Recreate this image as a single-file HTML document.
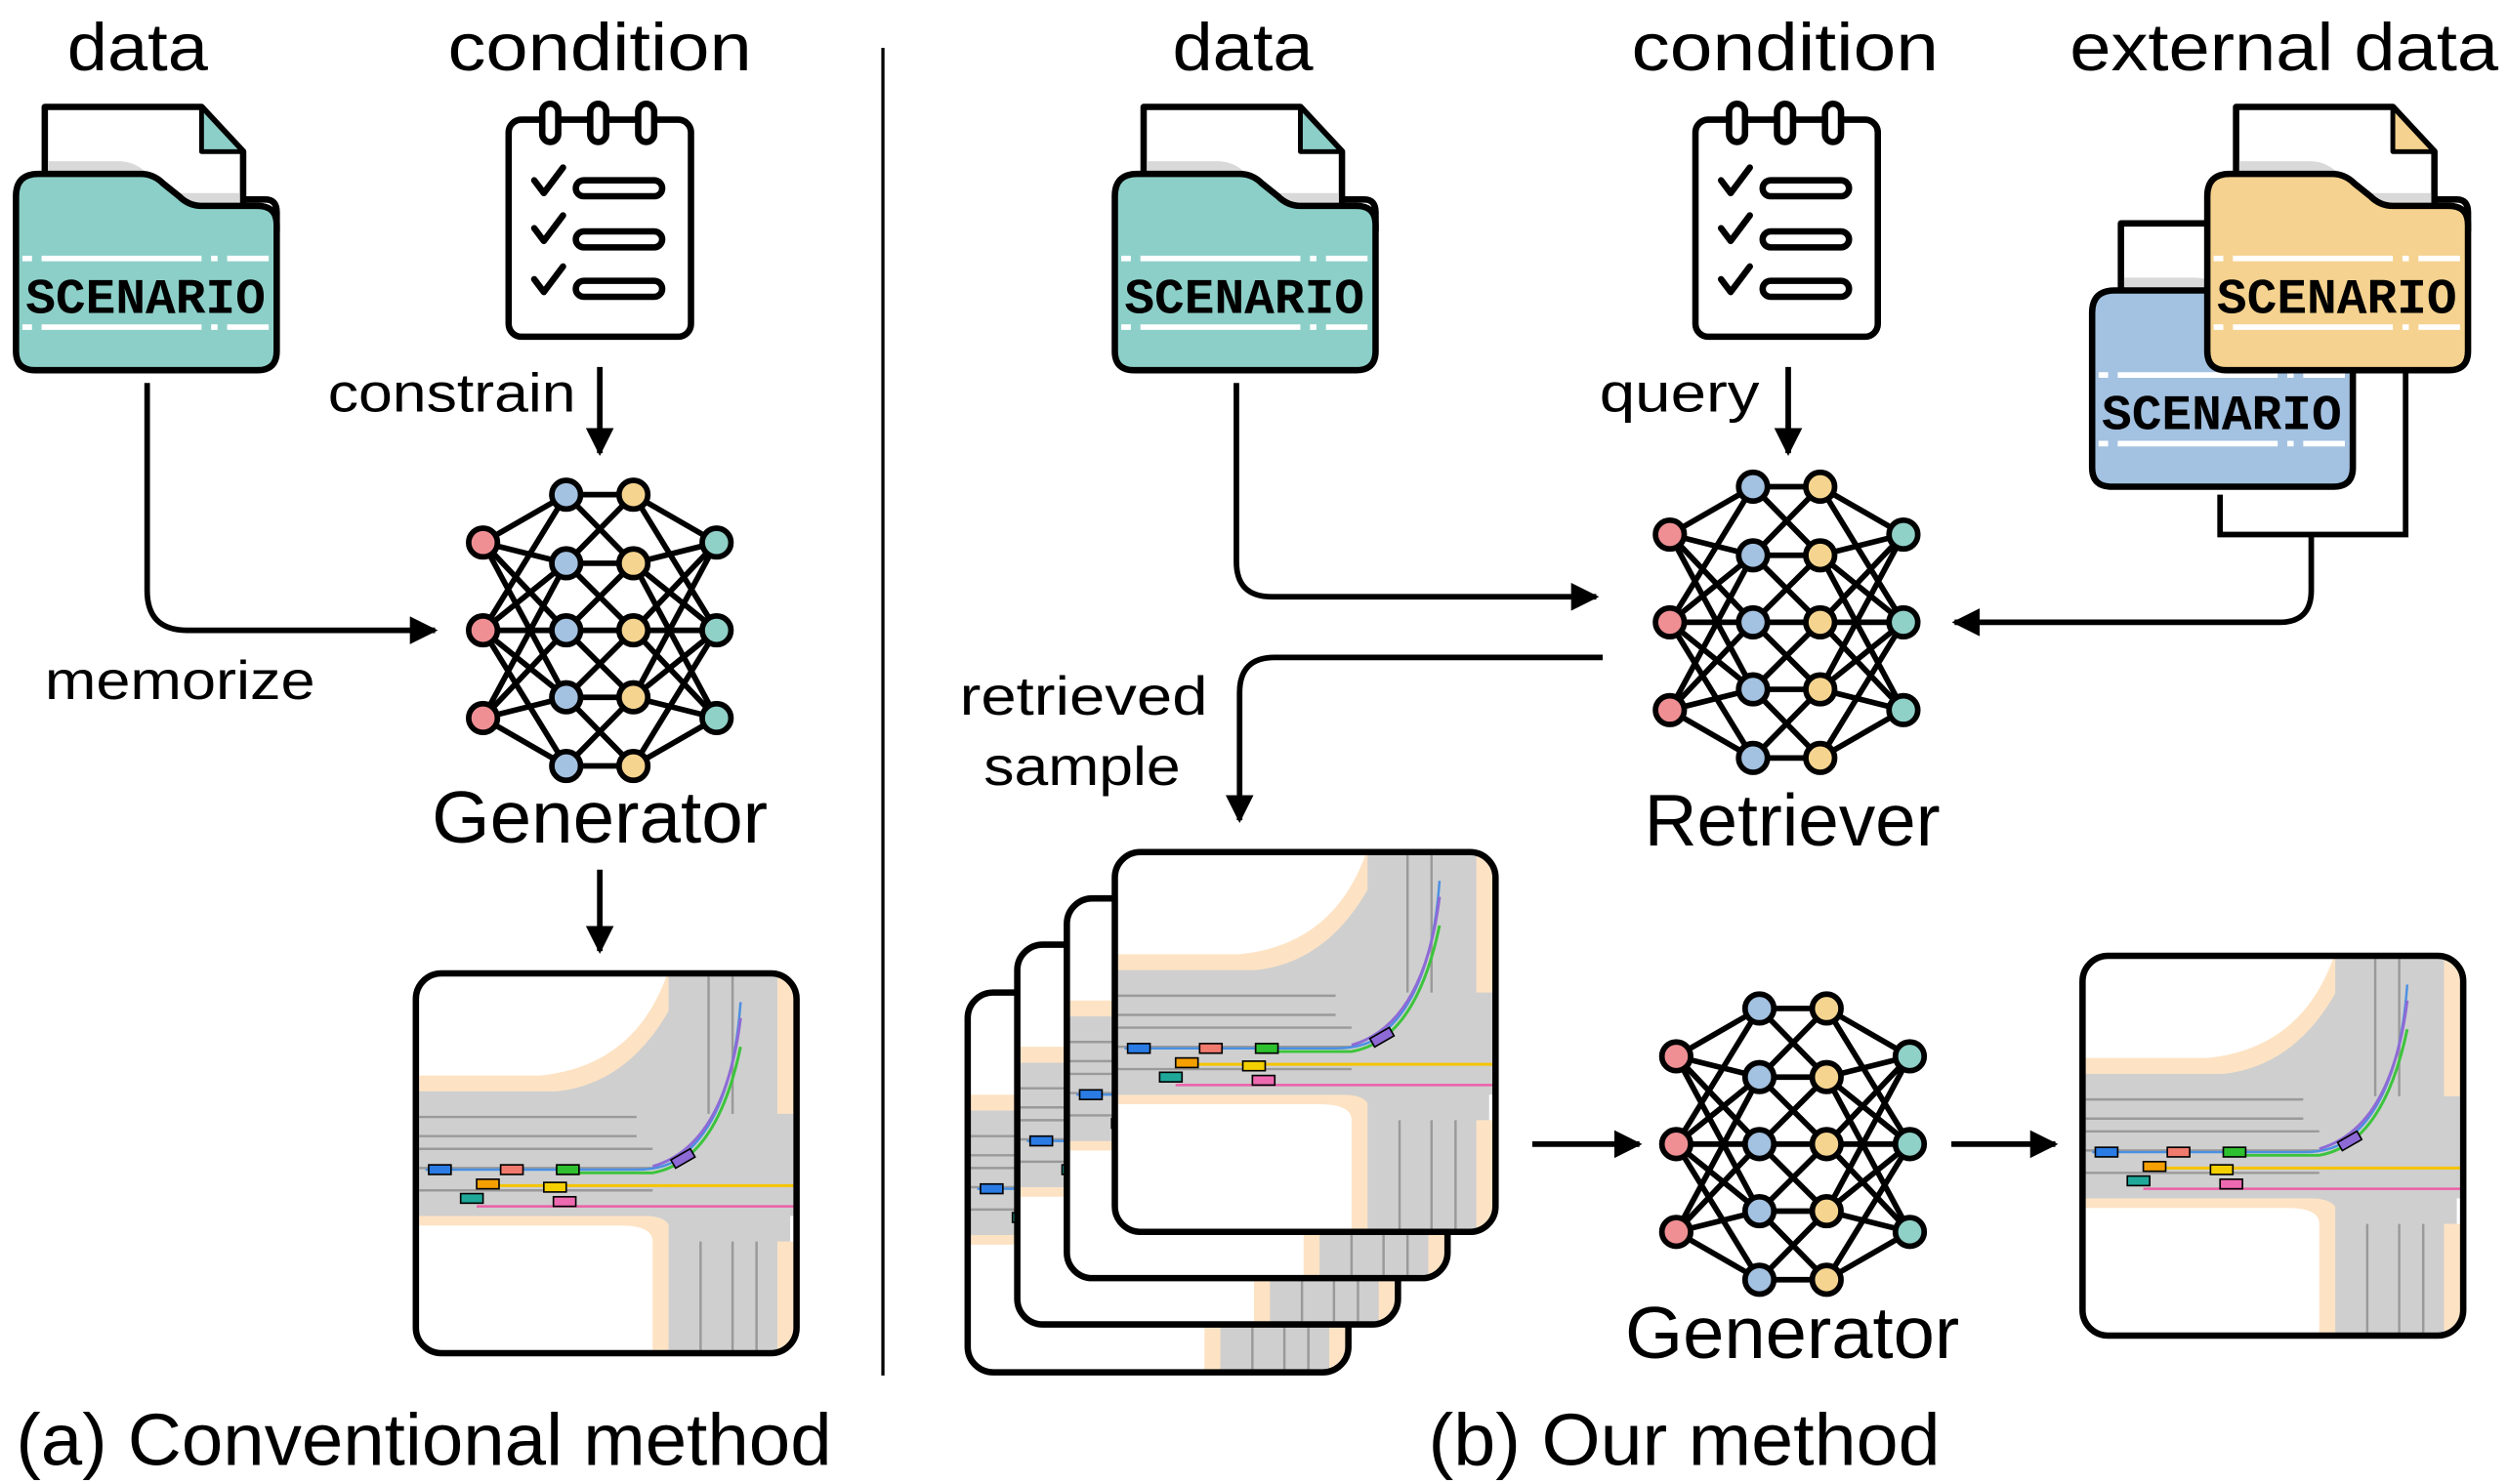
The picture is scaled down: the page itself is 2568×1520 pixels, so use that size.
<!DOCTYPE html>
<html><head><meta charset="utf-8"><style>
html,body{margin:0;padding:0;background:#fff;}
svg{display:block;}
text{font-family:"Liberation Sans","DejaVu Sans",sans-serif;fill:#000;}
</style></head><body>
<svg width="2568" height="1520" viewBox="0 0 1568 930" preserveAspectRatio="none" xmlns="http://www.w3.org/2000/svg">
<defs>
<marker id="ah" viewBox="0 0 10 10" refX="9" refY="5" markerWidth="5" markerHeight="5" orient="auto" markerUnits="strokeWidth"><path d="M0,0 L10,5 L0,10 Z" fill="#000"/></marker>
<symbol id="folder" viewBox="0 0 167 170" width="167" height="170" overflow="visible">
  <path d="M20,2 H118 L144,30 V70 H20 Z" fill="#fff" stroke="#000" stroke-width="4" stroke-linejoin="round"/>
  <path d="M118,2 V30 H144 Z" fill="currentColor" stroke="#000" stroke-width="3" stroke-linejoin="round"/>
  <path d="M22,36 H66 Q78,36 86,46 L96,56 H142 V62 H22 Z" fill="#d9d9d9"/>
  <path d="M144,60 H158 Q165,60 165,68 V80" fill="none" stroke="#000" stroke-width="4"/>
  <path d="M2,58 Q2,44 16,44 H80 Q88,44 94,50 L104,58 Q110,64 118,64 H153 Q165,64 165,76 V155 Q165,167 153,167 H14 Q2,167 2,155 Z" fill="currentColor" stroke="#000" stroke-width="4" stroke-linejoin="round"/>
  <g stroke="#fff" stroke-width="3.5">
    <line x1="6" y1="97" x2="12" y2="97"/><line x1="18" y1="97" x2="118" y2="97"/><line x1="124" y1="97" x2="128" y2="97"/><line x1="134" y1="97" x2="160" y2="97"/>
    <line x1="6" y1="140" x2="12" y2="140"/><line x1="18" y1="140" x2="118" y2="140"/><line x1="124" y1="140" x2="128" y2="140"/><line x1="134" y1="140" x2="160" y2="140"/>
  </g>
  <text x="83" y="131" text-anchor="middle" font-size="31" font-weight="bold" style="font-family:'Liberation Mono',monospace" textLength="150" lengthAdjust="spacingAndGlyphs">SCENARIO</text>
</symbol>
<symbol id="note" viewBox="0 0 120 152" width="120" height="152" overflow="visible">
  <rect x="2" y="12" width="114" height="136" rx="8" fill="#fff" stroke="#000" stroke-width="4"/>
  <g fill="#fff" stroke="#000" stroke-width="4">
    <rect x="23" y="2" width="10" height="24" rx="5"/><rect x="53" y="2" width="10" height="24" rx="5"/><rect x="83" y="2" width="10" height="24" rx="5"/>
  </g>
  <g fill="none" stroke="#000" stroke-width="4" stroke-linecap="round" stroke-linejoin="round">
    <path d="M18,50 L24,58 L36,42"/><path d="M18,80 L24,88 L36,72"/><path d="M18,112 L24,120 L36,104"/>
    <rect x="44" y="50" width="54" height="10" rx="5"/><rect x="44" y="82" width="54" height="10" rx="5"/><rect x="44" y="113" width="54" height="10" rx="5"/>
  </g>
</symbol>
<symbol id="net" viewBox="-12 -12 172 196" width="172" height="196" overflow="visible">
  <g stroke="#000" stroke-width="3.5">
    <path d="M0,30 L52,0 M0,30 L52,43 M0,30 L52,85 M0,30 L52,127 M0,85 L52,0 M0,85 L52,43 M0,85 L52,85 M0,85 L52,127 M0,85 L52,170 M0,140 L52,43 M0,140 L52,85 M0,140 L52,127 M0,140 L52,170"/>
    <path d="M52,0 L94,0 M52,43 L94,43 M52,85 L94,85 M52,127 L94,127 M52,170 L94,170 M52,0 L94,43 M52,43 L94,0 M52,43 L94,85 M52,85 L94,43 M52,85 L94,127 M52,127 L94,85 M52,127 L94,170 M52,170 L94,127"/>
    <path d="M146,30 L94,0 M146,30 L94,43 M146,30 L94,85 M146,30 L94,127 M146,85 L94,0 M146,85 L94,43 M146,85 L94,85 M146,85 L94,127 M146,85 L94,170 M146,140 L94,43 M146,140 L94,85 M146,140 L94,127 M146,140 L94,170"/>
  </g>
  <g stroke="#000" stroke-width="3.5">
    <g fill="#ef8f94"><circle cx="0" cy="30" r="9"/><circle cx="0" cy="85" r="9"/><circle cx="0" cy="140" r="9"/></g>
    <g fill="#a3c1e0"><circle cx="52" cy="0" r="9"/><circle cx="52" cy="43" r="9"/><circle cx="52" cy="85" r="9"/><circle cx="52" cy="127" r="9"/><circle cx="52" cy="170" r="9"/></g>
    <g fill="#f5d48f"><circle cx="94" cy="0" r="9"/><circle cx="94" cy="43" r="9"/><circle cx="94" cy="85" r="9"/><circle cx="94" cy="127" r="9"/><circle cx="94" cy="170" r="9"/></g>
    <g fill="#8fd0c7"><circle cx="146" cy="30" r="9"/><circle cx="146" cy="85" r="9"/><circle cx="146" cy="140" r="9"/></g>
  </g>
</symbol>
<clipPath id="mc"><rect x="4" y="4" width="234" height="234" rx="14"/></clipPath>
<symbol id="map" viewBox="0 0 242 242" width="242" height="242" overflow="visible">
  <rect x="2" y="2" width="238" height="238" rx="16" fill="#fff"/>
  <g clip-path="url(#mc)">
    <path d="M0,66 H80 Q140,60 160,0 H220 V242 H150 V170 Q150,160 130,160 H0 Z" fill="#fde3c4"/>
    <path d="M0,76 H90 Q145,70 172,0 H214 V242 H162 V166 Q162,154 145,154 H0 Z" fill="#cfcfcf"/>
    <rect x="0" y="76" width="242" height="78" fill="#cfcfcf"/>
    <rect x="160" y="0" width="76" height="242" fill="#cfcfcf"/>
    <rect x="228" y="0" width="14" height="90" fill="#fde3c4"/>
    <rect x="228" y="170" width="14" height="72" fill="#fde3c4"/>
    <g stroke="#9a9a9a" stroke-width="1.5">
      <line x1="0" y1="92" x2="140" y2="92"/><line x1="0" y1="104" x2="140" y2="104"/><line x1="0" y1="112" x2="150" y2="112"/><line x1="0" y1="124" x2="150" y2="124"/><line x1="0" y1="138" x2="150" y2="138"/>
      <line x1="185" y1="0" x2="185" y2="90"/><line x1="200" y1="0" x2="200" y2="90"/><line x1="180" y1="170" x2="180" y2="242"/><line x1="200" y1="170" x2="200" y2="242"/><line x1="215" y1="170" x2="215" y2="242"/>
    </g>
    <path d="M8,125 H140 Q160,125 170,115 Q200,90 205,20" fill="none" stroke="#4a90e2" stroke-width="1.5"/>
    <path d="M150,123 Q195,110 205,30" fill="none" stroke="#8e6ad6" stroke-width="1.8"/>
    <path d="M100,127 H150 Q190,120 205,48" fill="none" stroke="#3cc43c" stroke-width="1.8"/>
    <path d="M40,135 H242" stroke="#f5c400" stroke-width="1.8"/>
    <path d="M40,148 H242" stroke="#ec5fa8" stroke-width="1.5"/>
    <g stroke="#000" stroke-width="1">
      <rect x="10" y="122" width="14" height="6" fill="#2a7be4"/><rect x="55" y="122" width="14" height="6" fill="#f17a6e"/><rect x="90" y="122" width="14" height="6" fill="#2ec02e"/>
      <rect x="40" y="131" width="14" height="6" fill="#f5a000"/><rect x="82" y="133" width="14" height="6" fill="#f5d000"/>
      <rect x="30" y="140" width="14" height="6" fill="#1fa89a"/><rect x="88" y="142" width="14" height="6" fill="#ee6ab0"/>
      <rect x="162" y="115" width="14" height="6" fill="#8e6ad6" transform="rotate(-30 169 118)"/>
    </g>
  </g>
  <rect x="2" y="2" width="238" height="238" rx="16" fill="none" stroke="#000" stroke-width="4"/>
</symbol>
</defs>

<!-- left panel -->
<text x="42" y="44" font-size="42" textLength="88" lengthAdjust="spacingAndGlyphs">data</text>
<text x="280" y="44" font-size="42" textLength="190" lengthAdjust="spacingAndGlyphs">condition</text>
<use href="#folder" x="8" y="65" color="#8ccfc8"/>
<use href="#note" x="316" y="63"/>
<text x="205" y="258" font-size="34" textLength="155" lengthAdjust="spacingAndGlyphs">constrain</text>
<line x1="375" y1="230" x2="375" y2="284" stroke="#000" stroke-width="3.5" marker-end="url(#ah)"/>
<path d="M92,240 V370 Q92,395 117,395 H272" fill="none" stroke="#000" stroke-width="3.5" marker-end="url(#ah)"/>
<text x="28" y="438" font-size="34" textLength="169" lengthAdjust="spacingAndGlyphs">memorize</text>
<use href="#net" x="290" y="298"/>
<text x="270" y="528" font-size="46" textLength="210" lengthAdjust="spacingAndGlyphs">Generator</text>
<line x1="375" y1="545" x2="375" y2="596" stroke="#000" stroke-width="3.5" marker-end="url(#ah)"/>
<use href="#map" x="258" y="608"/>
<line x1="552" y1="30" x2="552" y2="862" stroke="#000" stroke-width="2"/>
<text x="10" y="918" font-size="46" textLength="510" lengthAdjust="spacingAndGlyphs">(a) Conventional method</text>

<!-- right panel -->
<text x="733" y="44" font-size="42" textLength="88" lengthAdjust="spacingAndGlyphs">data</text>
<text x="1020" y="44" font-size="42" textLength="192" lengthAdjust="spacingAndGlyphs">condition</text>
<text x="1294" y="44" font-size="42" textLength="268" lengthAdjust="spacingAndGlyphs">external data</text>
<use href="#folder" x="695" y="65" color="#8ccfc8"/>
<use href="#note" x="1058" y="63"/>
<use href="#folder" x="1306" y="138" color="#a3c1e0"/>
<use href="#folder" x="1378" y="65" color="#f5d28f"/>
<path d="M1388,310 V335 H1504 V232" fill="none" stroke="#000" stroke-width="3.5"/>
<path d="M1445,335 V370 Q1445,390 1425,390 H1222" fill="none" stroke="#000" stroke-width="3.5" marker-end="url(#ah)"/>
<text x="1000" y="258" font-size="34" textLength="100" lengthAdjust="spacingAndGlyphs">query</text>
<line x1="1118" y1="230" x2="1118" y2="284" stroke="#000" stroke-width="3.5" marker-end="url(#ah)"/>
<path d="M773,240 V352 Q773,374 795,374 H998" fill="none" stroke="#000" stroke-width="3.5" marker-end="url(#ah)"/>
<use href="#net" x="1032" y="293"/>
<text x="1028" y="530" font-size="46" textLength="185" lengthAdjust="spacingAndGlyphs">Retriever</text>
<path d="M1002,412 H797 Q775,412 775,434 V514" fill="none" stroke="#000" stroke-width="3.5" marker-end="url(#ah)"/>
<text x="600" y="448" font-size="34" textLength="155" lengthAdjust="spacingAndGlyphs">retrieved</text>
<text x="615" y="492" font-size="34" textLength="123" lengthAdjust="spacingAndGlyphs">sample</text>
<use href="#map" x="603" y="620"/>
<use href="#map" x="634" y="590"/>
<use href="#map" x="665" y="561"/>
<use href="#map" x="695" y="532"/>
<line x1="958" y1="717" x2="1025" y2="717" stroke="#000" stroke-width="3.5" marker-end="url(#ah)"/>
<use href="#net" x="1036" y="620"/>
<text x="1016" y="851" font-size="46" textLength="209" lengthAdjust="spacingAndGlyphs">Generator</text>
<line x1="1220" y1="717" x2="1285" y2="717" stroke="#000" stroke-width="3.5" marker-end="url(#ah)"/>
<use href="#map" x="1300" y="597"/>
<text x="893" y="918" font-size="46" textLength="320" lengthAdjust="spacingAndGlyphs">(b) Our method</text>
</svg>
</body></html>
